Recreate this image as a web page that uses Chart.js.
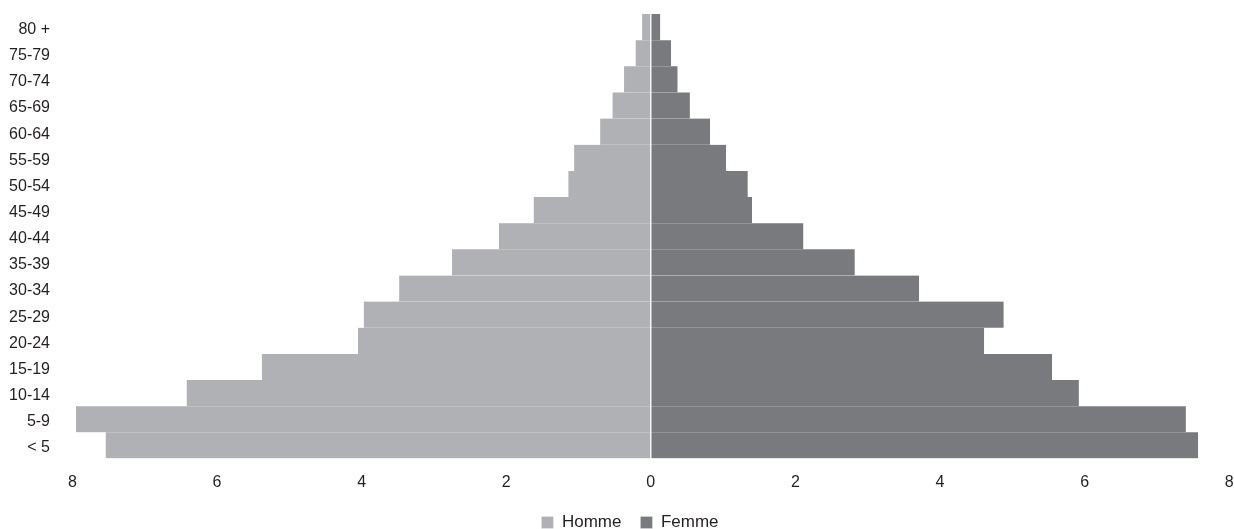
<!DOCTYPE html>
<html>
<head>
<meta charset="utf-8">
<script src="https://cdn.jsdelivr.net/npm/chart.js@4"></script>
<style>
html,body{margin:0;padding:0;background:#fff;}
#wrap{width:1234px;height:529px;position:relative;}
</style>
</head>
<body>
<div id="wrap"><canvas id="c" width="1234" height="529"></canvas></div>
<script>
// Age groups, youngest first
const categories = ['< 5','5-9','10-14','15-19','20-24','25-29','30-34','35-39','40-44','45-49','50-54','55-59','60-64','65-69','70-74','75-79','80 +'];
// Percent of population
const homme = [7.54, 7.95, 6.42, 5.38, 4.05, 3.97, 3.48, 2.75, 2.10, 1.62, 1.14, 1.06, 0.70, 0.53, 0.37, 0.21, 0.12];
const femme = [7.57, 7.40, 5.92, 5.55, 4.61, 4.88, 3.71, 2.82, 2.11, 1.40, 1.34, 1.04, 0.82, 0.54, 0.37, 0.28, 0.13];
const xTicks = [-8, -6, -4, -2, 0, 2, 4, 6, 8];

const FONT = "'Liberation Sans', Arial, Helvetica, sans-serif";
const TEXT = '#231f20';

// shifts the bottom legend a little (position only)
const legendShift = {
  id: 'legendShift',
  afterLayout(chart) {
    const lg = chart.legend;
    if (!lg) return;
    const dx = 15.4, dy = 5.5;
    lg.left += dx; lg.right += dx;
    lg.top += dy; lg.bottom += dy;
  }
};

new Chart(document.getElementById('c'), {
  type: 'bar',
  data: {
    labels: categories,
    datasets: [
      {
        label: 'Homme',
        data: homme.map(v => -v),
        backgroundColor: '#b0b1b5',
        borderColor: '#ffffff',
        borderWidth: {top: 0, bottom: 0, left: 0, right: 1},
        borderSkipped: false,
        barPercentage: 1,
        categoryPercentage: 1
      },
      {
        label: 'Femme',
        data: femme,
        backgroundColor: '#797a7e',
        borderColor: '#ffffff',
        borderWidth: {top: 0, bottom: 0, left: 1, right: 0},
        borderSkipped: false,
        barPercentage: 1,
        categoryPercentage: 1
      }
    ]
  },
  plugins: [legendShift],
  options: {
    indexAxis: 'y',
    responsive: false,
    animation: false,
    layout: {padding: {left: 0, right: 4.8, top: 14, bottom: -6.5}},
    scales: {
      x: {
        type: 'linear',
        stacked: true,
        min: -8,
        max: 8,
        border: {display: false},
        grid: {display: false},
        afterBuildTicks: (s) => { s.ticks = xTicks.map(v => ({value: v})); },
        afterFit: (s) => { s.height = 31; s.paddingLeft = 0; s.paddingRight = 0; },
        ticks: {
          padding: 6,
          color: TEXT,
          font: {family: FONT, size: 16},
          maxRotation: 0,
          callback: (v) => String(Math.abs(v))
        }
      },
      y: {
        stacked: true,
        reverse: true,
        border: {display: false},
        grid: {display: false},
        afterFit: (s) => { s.width = 72.4; s.paddingTop = 0; s.paddingBottom = 0; },
        ticks: {
          padding: 14.4,
          labelOffset: 2.5,
          color: TEXT,
          font: {family: FONT, size: 16}
        }
      }
    },
    plugins: {
      tooltip: {enabled: false},
      legend: {
        position: 'bottom',
        labels: {
          color: TEXT,
          font: {family: FONT, size: 17},
          boxWidth: 12,
          boxHeight: 12,
          padding: 19
        }
      }
    }
  }
});
</script>
</body>
</html>
